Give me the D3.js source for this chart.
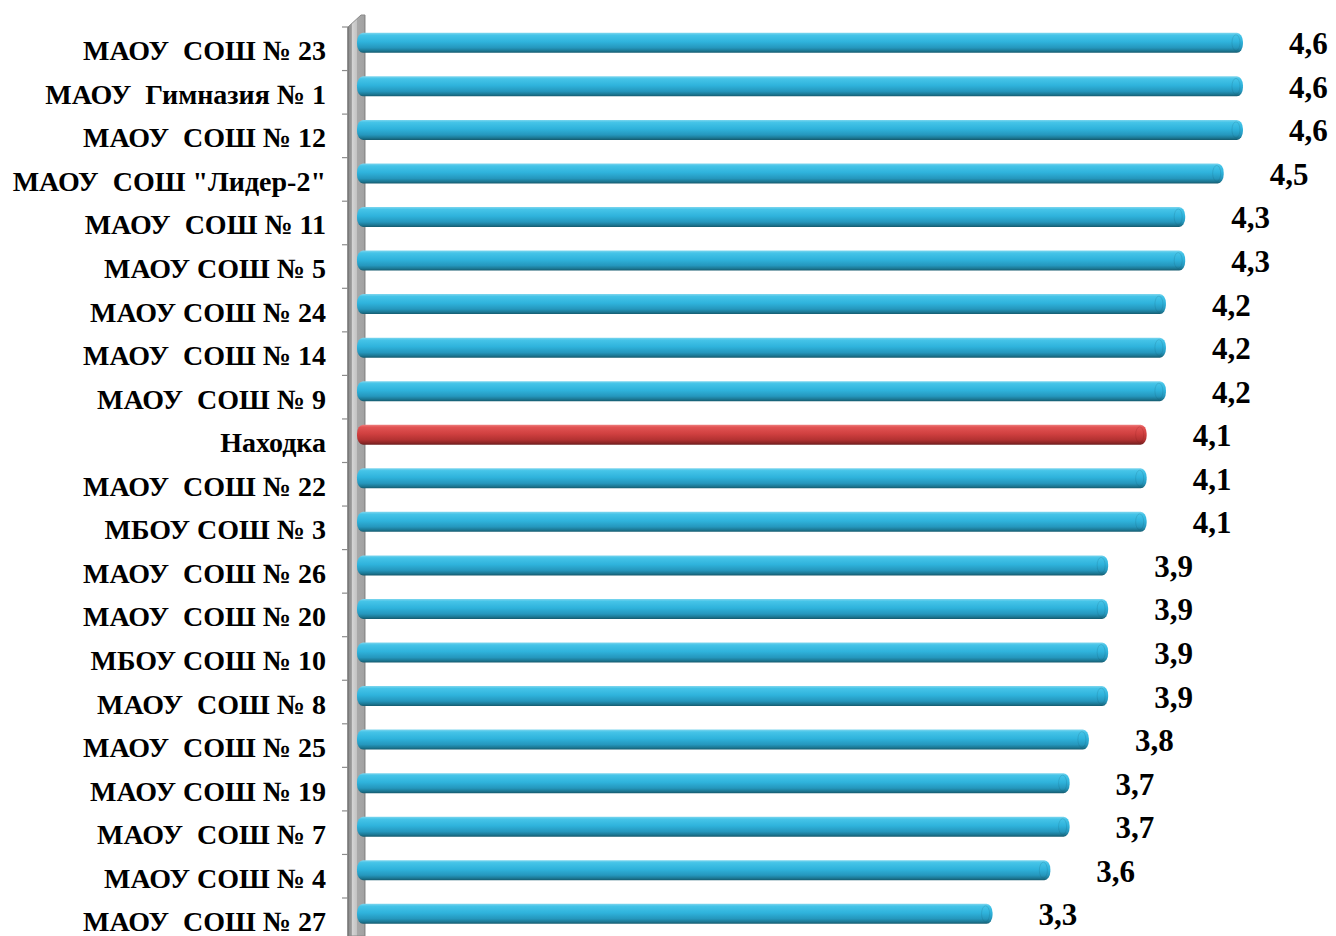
<!DOCTYPE html>
<html><head><meta charset="utf-8">
<script src="https://cdn.jsdelivr.net/npm/d3@7"></script>
<style>
html,body{margin:0;padding:0;background:#fff;}
svg{display:block;}
text{white-space:pre;}
</style></head>
<body>
<svg id="chart" width="1336" height="936"></svg>
<script>
const categories = [
  "МАОУ  СОШ № 23",
  "МАОУ  Гимназия № 1",
  "МАОУ  СОШ № 12",
  "МАОУ  СОШ \"Лидер-2\"",
  "МАОУ  СОШ № 11",
  "МАОУ СОШ № 5",
  "МАОУ СОШ № 24",
  "МАОУ  СОШ № 14",
  "МАОУ  СОШ № 9",
  "Находка",
  "МАОУ  СОШ № 22",
  "МБОУ СОШ № 3",
  "МАОУ  СОШ № 26",
  "МАОУ  СОШ № 20",
  "МБОУ СОШ № 10",
  "МАОУ  СОШ № 8",
  "МАОУ  СОШ № 25",
  "МАОУ СОШ № 19",
  "МАОУ  СОШ № 7",
  "МАОУ СОШ № 4",
  "МАОУ  СОШ № 27"
];
const values = [4.6, 4.6, 4.6, 4.5, 4.3, 4.3, 4.2, 4.2, 4.2, 4.1, 4.1, 4.1, 3.9, 3.9, 3.9, 3.9, 3.8, 3.7, 3.7, 3.6, 3.3];
const valueLabels = ["4,6","4,6","4,6","4,5","4,3","4,3","4,2","4,2","4,2","4,1","4,1","4,1","3,9","3,9","3,9","3,9","3,8","3,7","3,7","3,6","3,3"];
const highlight = "Находка";

const data = categories.map((c, i) => ({cat: c, value: values[i], label: valueLabels[i]}));

const svg = d3.select("#chart");
const defs = svg.append("defs");

function grad(id, stops) {
  const g = defs.append("linearGradient").attr("id", id)
    .attr("x1", 0).attr("y1", 0).attr("x2", 0).attr("y2", 1);
  stops.forEach(s => g.append("stop").attr("offset", s[0]).attr("stop-color", s[1]));
}
grad("blueBar", [[0, "#7fd6ee"], [0.12, "#45c4e8"], [0.45, "#2fb3dc"], [0.75, "#2597bd"], [0.9, "#1c7894"], [1, "#155a6e"]]);
grad("redBar", [[0, "#ee8080"], [0.12, "#e25353"], [0.45, "#d04040"], [0.75, "#b33232"], [0.9, "#8e2727"], [1, "#6c1d1d"]]);
const wg = defs.append("linearGradient").attr("id", "wall").attr("x1", 0).attr("y1", 0).attr("x2", 1).attr("y2", 0);
[[0, "#8a8a8a"], [0.2, "#9a9a9a"], [0.25, "#d4d4d4"], [0.5, "#c4c4c4"], [0.55, "#a8a8a8"], [0.95, "#a2a2a2"], [1, "#7a7a7a"]]
  .forEach(s => wg.append("stop").attr("offset", s[0]).attr("stop-color", s[1]));

const x = d3.scaleLinear().domain([0, 5]).range([357, 357 + 963]);
const y = d3.scaleBand().domain(categories).range([27, 27 + 21 * 43.55]).padding(0);

const barH = 20;
const barShift = -6;
const bw = y.bandwidth();

// Wall (axis plane)
const wl = x(0) - 9, wr = x(0) + 8, wt = y.range()[0], wd = 12;
svg.append("path")
  .attr("d", `M${wl},${wt} L${wr - 4},${wt - wd} L${wr},${wt - wd} L${wr},936 L${wl},936 Z`)
  .attr("fill", "url(#wall)")
  .attr("stroke", "#8a8a8a").attr("stroke-width", 1);
svg.append("line").attr("x1", wl).attr("x2", wl).attr("y1", wt).attr("y2", 936)
  .attr("stroke", "#707070").attr("stroke-width", 1.2);

// ticks at band boundaries
const bounds = categories.map(c => y(c));
bounds.push(y.range()[1]);
svg.append("g").selectAll("line").data(bounds).join("line")
  .attr("x1", wl - 6).attr("x2", wl)
  .attr("y1", d => d).attr("y2", d => d)
  .attr("stroke", "#8c8c8c").attr("stroke-width", 1.2);

// Bars
const bars = svg.append("g");
bars.selectAll("rect.bar").data(data).join("rect")
  .attr("class", "bar")
  .attr("x", x(0))
  .attr("y", d => y(d.cat) + bw / 2 + barShift - barH / 2)
  .attr("width", d => x(d.value) - x(0))
  .attr("height", barH)
  .attr("rx", 6).attr("ry", 9)
  .attr("fill", d => d.cat === highlight ? "url(#redBar)" : "url(#blueBar)");

// subtle cylinder end shading
bars.selectAll("ellipse.cap").data(data).join("ellipse")
  .attr("class", "cap")
  .attr("cx", d => x(d.value) - 7)
  .attr("cy", d => y(d.cat) + bw / 2 + barShift)
  .attr("rx", 4).attr("ry", barH / 2 - 2)
  .attr("fill", "none")
  .attr("stroke", d => d.cat === highlight ? "rgba(120,20,20,0.18)" : "rgba(20,90,110,0.18)")
  .attr("stroke-width", 1);

// Category labels
svg.append("g").selectAll("text").data(data).join("text")
  .attr("x", 326)
  .attr("y", d => y(d.cat) + bw / 2 + 2)
  .attr("text-anchor", "end")
  .attr("dominant-baseline", "central")
  .attr("font-family", "'Liberation Serif', 'Times New Roman', serif")
  .attr("font-weight", "bold")
  .attr("font-size", 28)
  .attr("fill", "#000")
  .text(d => d.cat);

// Value labels
svg.append("g").selectAll("text").data(data).join("text")
  .attr("x", d => x(d.value) + 46)
  .attr("y", d => y(d.cat) + bw / 2 + barShift + 1)
  .attr("text-anchor", "start")
  .attr("dominant-baseline", "central")
  .attr("font-family", "'Liberation Serif', 'Times New Roman', serif")
  .attr("font-weight", "bold")
  .attr("font-size", 31)
  .attr("fill", "#000")
  .text(d => d.label);
</script>
</body></html>
